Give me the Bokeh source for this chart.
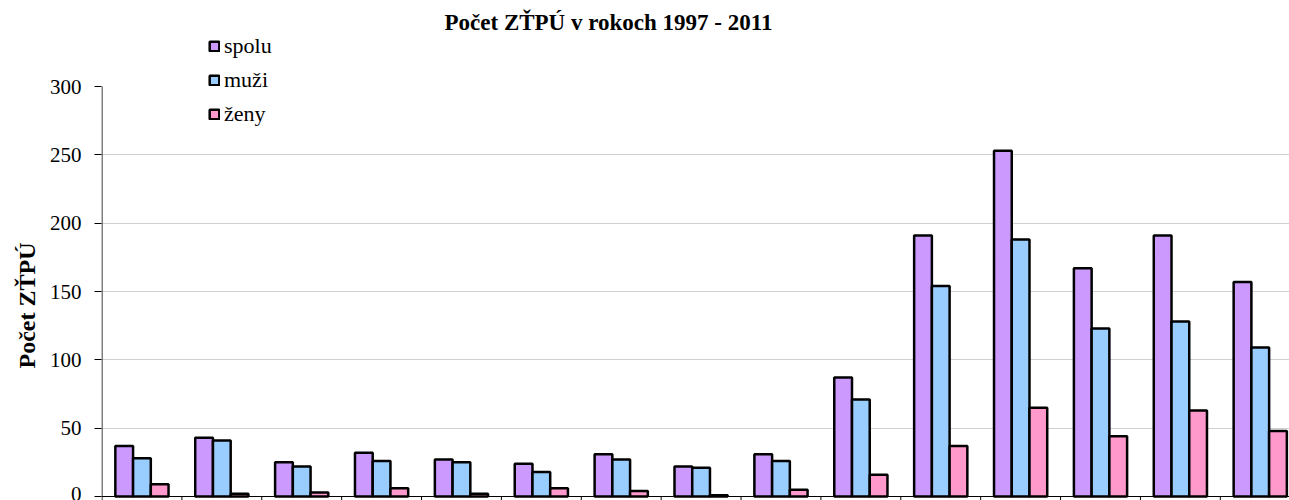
import numpy as np
from bokeh.plotting import figure
from bokeh.models import FixedTicker, Legend, LegendItem, Range1d, ColumnDataSource, Span, Title
from bokeh.transform import dodge
from bokeh.embed import file_html
from bokeh.resources import INLINE

years = ["1997", "1998", "1999", "2000", "2001", "2002", "2003", "2004",
         "2005", "2006", "2007", "2008", "2009", "2010", "2011"]
spolu = [37, 43, 25, 32, 27, 24, 31, 22, 31, 87, 191, 253, 167, 191, 157]
muzi = [28, 41, 22, 26, 25, 18, 27, 21, 26, 71, 154, 188, 123, 128, 109]
zeny = [9, 2, 3, 6, 2, 6, 4, 1, 5, 16, 37, 65, 44, 63, 48]
y_ticks = [0, 50, 100, 150, 200, 250, 300]

FONT = "Liberation Serif"
idx = list(range(len(years)))
src = ColumnDataSource(dict(x=idx, year=years, spolu=spolu, muzi=muzi, zeny=zeny))

GROUP_PX = 79.88
FRAME_W = 1188
FRAME_H = 466
PX_PER_UNIT = 410 / 300.0
x_start = -0.5 - 0.5 / GROUP_PX
x_end = x_start + FRAME_W / GROUP_PX
y_start = -4 / PX_PER_UNIT
y_end = y_start + FRAME_H / PX_PER_UNIT

p = figure(frame_width=FRAME_W, frame_height=FRAME_H,
           x_range=Range1d(x_start, x_end), y_range=Range1d(y_start, y_end),
           output_backend="svg", toolbar_location=None,
           min_border_left=101, min_border_right=0, min_border_top=34, min_border_bottom=0)
p.outline_line_color = None
p.background_fill_color = "white"

bw = 0.222
r1 = p.vbar(x=dodge("x", -bw, range=p.x_range), top="spolu", width=bw, source=src,
            fill_color="#CC99FF", line_color="black", line_width=2.5)
r2 = p.vbar(x=dodge("x", 0, range=p.x_range), top="muzi", width=bw, source=src,
            fill_color="#99CCFF", line_color="black", line_width=2.5)
r3 = p.vbar(x=dodge("x", bw, range=p.x_range), top="zeny", width=bw, source=src,
            fill_color="#FF99CC", line_color="black", line_width=2.5)

# grid
p.xgrid.visible = False
p.ygrid.ticker = FixedTicker(ticks=y_ticks[1:-1])
p.ygrid.grid_line_color = "#a0a0a0"
p.ygrid.grid_line_dash = "1 1"
p.ygrid.grid_line_width = 1

# y axis (ticks + labels from Bokeh, line drawn separately from 0 to 300)
p.yaxis.ticker = FixedTicker(ticks=y_ticks)
p.yaxis.major_tick_out = 7
p.yaxis.major_tick_in = 0
p.yaxis.minor_tick_line_color = None
p.yaxis.axis_line_color = None
p.yaxis.major_tick_line_color = "black"
p.yaxis.major_label_text_font = FONT
p.yaxis.major_label_text_font_size = "21px"
p.yaxis.major_label_text_color = "black"
p.yaxis.major_label_standoff = 13

p.segment(x0=[x_start + 0.5 / GROUP_PX], x1=[x_start + 0.5 / GROUP_PX],
          y0=[y_ticks[0]], y1=[y_ticks[-1]], line_color="black", line_width=1)

# x axis: line at 0 and ticks at group boundaries
p.xaxis.visible = False
p.add_layout(Span(location=0, dimension="width", line_color="black", line_width=1))
bounds = [i - 0.5 for i in range(len(years) + 1)]
p.segment(x0=bounds, x1=bounds, y0=[0] * len(bounds), y1=[y_start] * len(bounds),
          line_color="black", line_width=1)

# title
p.title.text = "Počet ZŤPÚ v rokoch 1997 - 2011"
p.title.align = "left"
p.title.offset = 343
p.title.standoff = 0
p.title.text_font = FONT
p.title.text_font_style = "bold"
p.title.text_font_size = "23px"
p.title.text_color = "black"

ylab = Title(text="Počet  ZŤPÚ", align="left", offset=132, standoff=14,
             text_font=FONT, text_font_style="bold", text_font_size="24px",
             text_color="black")
p.add_layout(ylab, "left")

legend = Legend(items=[LegendItem(label="spolu", renderers=[r1]),
                       LegendItem(label="muži", renderers=[r2]),
                       LegendItem(label="ženy", renderers=[r3])],
                location=(107, 373), orientation="vertical",
                glyph_width=12, glyph_height=12, label_height=22,
                spacing=8, padding=0, margin=0, label_standoff=4,
                border_line_color=None, background_fill_alpha=0,
                label_text_font=FONT, label_text_font_size="22px",
                label_text_color="black")
p.add_layout(legend, "center")

open("out.html", "w").write(file_html(p, INLINE))
